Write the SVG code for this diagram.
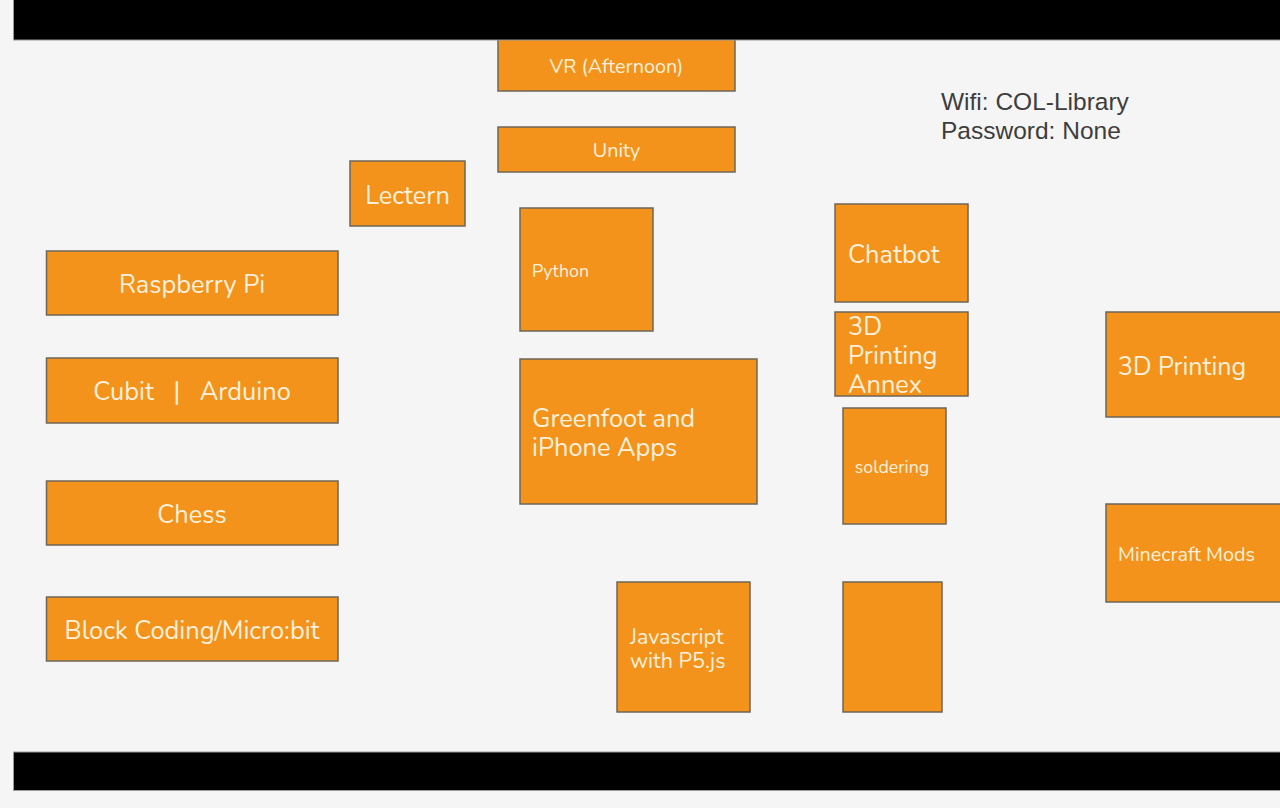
<svg xmlns="http://www.w3.org/2000/svg" width="1280" height="808" viewBox="0 0 1280 808">
<style>
.box{fill:#f3931b;stroke:#6e6659;stroke-width:1.5}
.t{fill:#fdf0dc;font-family:"Nunito","Lato","Open Sans",sans-serif}
.c{text-anchor:middle}
.bar{fill:#000;stroke:#999;stroke-width:1}
</style>
<rect width="1280" height="808" fill="#f5f5f5"/>
<g id="vr"><rect class="box" x="498" y="30" width="237" height="61"/><text class="t c" x="616.5" y="73" font-size="19.8">VR (Afternoon)</text></g>
<g id="unity"><rect class="box" x="498" y="127" width="237" height="45"/><text class="t c" x="616.5" y="157" font-size="19.8">Unity</text></g>
<g id="lectern"><rect class="box" x="350" y="161" width="115" height="65"/><text class="t c" x="407.5" y="204" font-size="25.4">Lectern</text></g>
<g id="python"><rect class="box" x="520" y="208" width="133" height="123"/><text class="t" x="532" y="277" font-size="17.8">Python</text></g>
<g id="raspberry"><rect class="box" x="46.5" y="251" width="291.5" height="64"/><text class="t c" x="192" y="293" font-size="25.4">Raspberry Pi</text></g>
<g id="cubit"><rect class="box" x="46.5" y="358" width="291.5" height="65"/><text class="t c" x="192" y="400" font-size="25.4" xml:space="preserve">Cubit   |   Arduino</text></g>
<g id="chess"><rect class="box" x="46.5" y="481" width="291.5" height="64"/><text class="t c" x="192" y="523" font-size="25.4">Chess</text></g>
<g id="block"><rect class="box" x="46.5" y="597" width="291.5" height="64"/><text class="t c" x="192" y="639" font-size="25.4">Block Coding/Micro:bit</text></g>
<g id="greenfoot"><rect class="box" x="520" y="359" width="237" height="145"/><text class="t" x="532" y="427" font-size="25.4">Greenfoot and</text><text class="t" x="532" y="456" font-size="25.4">iPhone Apps</text></g>
<g id="chatbot"><rect class="box" x="835" y="204" width="133" height="98"/><text class="t" x="848" y="263" font-size="25.4">Chatbot</text></g>
<g id="annex"><rect class="box" x="835" y="312" width="133" height="84"/><text class="t" x="848" y="335" font-size="25.4">3D</text><text class="t" x="848" y="364" font-size="25.4">Printing</text><text class="t" x="848" y="393" font-size="25.4">Annex</text></g>
<g id="soldering"><rect class="box" x="843" y="408" width="103" height="116"/><text class="t c" x="892" y="473" font-size="17.8">soldering</text></g>
<g id="printing"><rect class="box" x="1106" y="312" width="180" height="105"/><text class="t" x="1118" y="375" font-size="25">3D Printing</text></g>
<g id="minecraft"><rect class="box" x="1106" y="504" width="180" height="98"/><text class="t" x="1118" y="561" font-size="19.8">Minecraft Mods</text></g>
<g id="javascript"><rect class="box" x="617" y="582" width="133" height="130"/><text class="t" x="630" y="644" font-size="21.5">Javascript</text><text class="t" x="630" y="668" font-size="21.5">with P5.js</text></g>
<g id="empty"><rect class="box" x="843" y="582" width="99" height="130"/></g>
<g id="connectors"></g>
<rect class="bar" x="13.5" y="-1" width="1280" height="41"/>
<rect class="bar" x="13.5" y="752" width="1280" height="38.5"/>
<g id="wifi" font-family="Liberation Sans, Arial, sans-serif" font-size="24.5" fill="#3d3d3d"><text x="941" y="110">Wifi: COL-Library</text><text x="941" y="139">Password: None</text></g>
</svg>
